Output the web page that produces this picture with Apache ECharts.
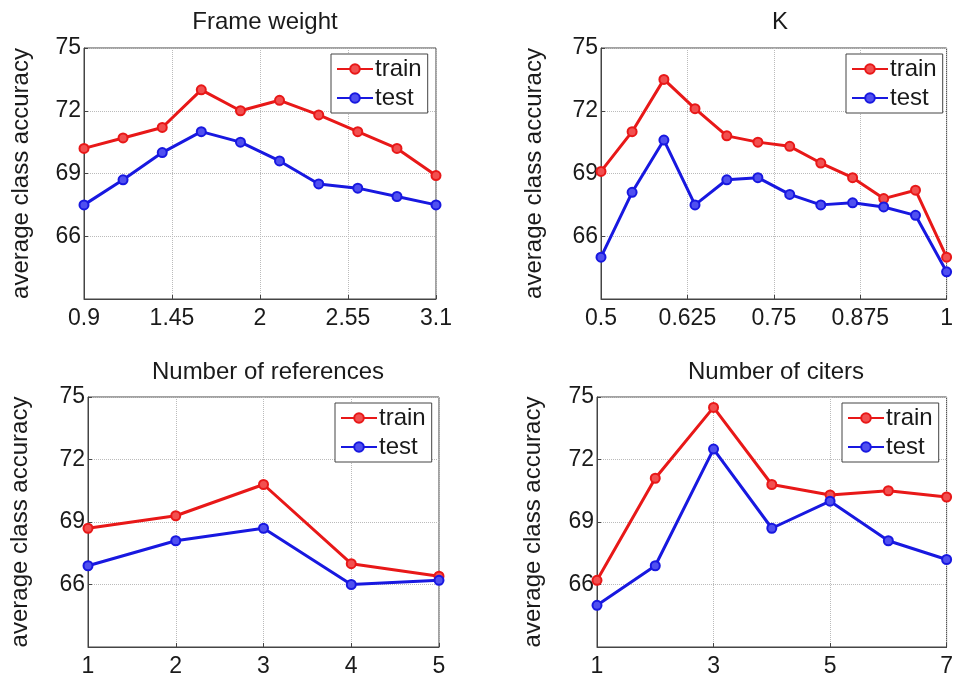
<!DOCTYPE html>
<html>
<head>
<meta charset="utf-8">
<script src="https://cdn.jsdelivr.net/npm/echarts@6/dist/echarts.min.js"></script>
<style>
html,body{margin:0;padding:0;background:#fff;}
#c{width:956px;height:679px;}
</style>
</head>
<body>
<div id="c"></div>
<script>
// ---- data ----
const seriesNames = ['train', 'test'];
const yTicks = [66, 69, 72, 75];

const frameX = [0.9, 1.144, 1.389, 1.633, 1.878, 2.122, 2.367, 2.611, 2.856, 3.1];
const frameTrain = [70.2, 70.7, 71.2, 73.0, 72.0, 72.5, 71.8, 71.0, 70.2, 68.9];
const frameTest = [67.5, 68.7, 70.0, 71.0, 70.5, 69.6, 68.5, 68.3, 67.9, 67.5];
const frameTicks = [0.9, 1.45, 2, 2.55, 3.1];

const kX = [0.5, 0.545, 0.591, 0.636, 0.682, 0.727, 0.773, 0.818, 0.864, 0.909, 0.955, 1.0];
const kTrain = [69.1, 71.0, 73.5, 72.1, 70.8, 70.5, 70.3, 69.5, 68.8, 67.8, 68.2, 65.0];
const kTest = [65.0, 68.1, 70.6, 67.5, 68.7, 68.8, 68.0, 67.5, 67.6, 67.4, 67.0, 64.3];
const kTicks = [0.5, 0.625, 0.75, 0.875, 1];

const refX = [1, 2, 3, 4, 5];
const refTrain = [68.7, 69.3, 70.8, 67.0, 66.4];
const refTest = [66.9, 68.1, 68.7, 66.0, 66.2];
const refTicks = [1, 2, 3, 4, 5];

const citX = [1, 2, 3, 4, 5, 6, 7];
const citTrain = [66.2, 71.1, 74.5, 70.8, 70.3, 70.5, 70.2];
const citTest = [65.0, 66.9, 72.5, 68.7, 70.0, 68.1, 67.2];
const citTicks = [1, 3, 5, 7];

const titles = ['Frame weight', 'K', 'Number of references', 'Number of citers'];
const yName = 'average class accuracy';

// ---- layout ----
const panels = [
  {x: frameX, tr: frameTrain, te: frameTest, ticks: frameTicks,
   grid: {left: 84, top: 48, width: 352, height: 251}, title: [260, 5], legend: [331, 54], nameGap: 51},
  {x: kX, tr: kTrain, te: kTest, ticks: kTicks,
   grid: {left: 601, top: 48, width: 350, height: 251}, title: [775, 5], legend: [846, 54], nameGap: 55},
  {x: refX, tr: refTrain, te: refTest, ticks: refTicks,
   grid: {left: 88, top: 397, width: 351, height: 250}, title: [263, 355], legend: [335, 403], nameGap: 56},
  {x: citX, tr: citTrain, te: citTest, ticks: citTicks,
   grid: {left: 597, top: 397, width: 351, height: 250}, title: [771, 355], legend: [842, 403], nameGap: 52}
];

const RED = '#e81818', BLUE = '#1818e0';
const RED_F = '#f25050', BLUE_F = '#5050f0';
const FONT = 'Liberation Sans, Arial, sans-serif';

const option = {
  backgroundColor: '#fff',
  animation: false,
  title: [], grid: [], xAxis: [], yAxis: [], series: [], legend: []
};

panels.forEach((p, i) => {
  option.title.push({
    text: titles[i], left: p.title[0], top: p.title[1], textAlign: 'center',
    textStyle: {fontFamily: FONT, fontSize: 24, fontWeight: 'normal', color: '#1a1a1a'}
  });
  option.grid.push(Object.assign({show: true, borderColor: '#444', borderWidth: 1, backgroundColor: '#fff'}, p.grid));
  const xmin = p.ticks[0], xmax = p.ticks[p.ticks.length - 1];
  option.xAxis.push({
    type: 'value', gridIndex: i, min: xmin, max: xmax,
    axisLine: {show: true, onZero: false, lineStyle: {color: '#444'}},
    axisTick: {show: true, inside: true, length: 4, customValues: p.ticks, lineStyle: {color: '#444'}},
    axisLabel: {customValues: p.ticks, fontFamily: FONT, fontSize: 23, color: '#1a1a1a', margin: 8,
      formatter: v => String(v)},
    splitLine: {show: true, lineStyle: {type: 'dotted', color: '#bbb'}}
  });
  option.yAxis.push({
    type: 'value', gridIndex: i, min: 63, max: 75, interval: 3,
    name: yName, nameLocation: 'middle', nameRotate: 90, nameGap: p.nameGap,
    nameTextStyle: {fontFamily: FONT, fontSize: 24, color: '#1a1a1a'},
    axisLine: {show: true, lineStyle: {color: '#444'}},
    axisTick: {show: true, inside: true, length: 4, lineStyle: {color: '#444'}},
    axisLabel: {fontFamily: FONT, fontSize: 23, color: '#1a1a1a', margin: 3,
      formatter: v => (yTicks.indexOf(v) >= 0 ? String(v) : '')},
    splitLine: {show: true, lineStyle: {type: 'dotted', color: '#bbb'}}
  });
  [[p.tr, RED, RED_F, seriesNames[0]], [p.te, BLUE, BLUE_F, seriesNames[1]]].forEach(s => {
    option.series.push({
      type: 'line', name: s[3], xAxisIndex: i, yAxisIndex: i,
      data: p.x.map((x, j) => [x, s[0][j]]),
      symbol: 'circle', symbolSize: 9, clip: false,
      lineStyle: {color: s[1], width: 3},
      itemStyle: {color: s[2], borderColor: s[1], borderWidth: 2}
    });
  });
  option.legend.push({
    data: seriesNames, orient: 'vertical', left: p.legend[0], top: p.legend[1],
    padding: [3, 6, 3, 5], itemWidth: 36, itemHeight: 12, itemGap: 5,
    borderColor: '#444', borderWidth: 1, backgroundColor: '#fff',
    textStyle: {fontFamily: FONT, fontSize: 24, color: '#1a1a1a', padding: [0, 0, 0, -3]},
    selectedMode: false
  });
});

const chart = echarts.init(document.getElementById('c'), null, {renderer: 'canvas'});
chart.setOption(option);
</script>
</body>
</html>
